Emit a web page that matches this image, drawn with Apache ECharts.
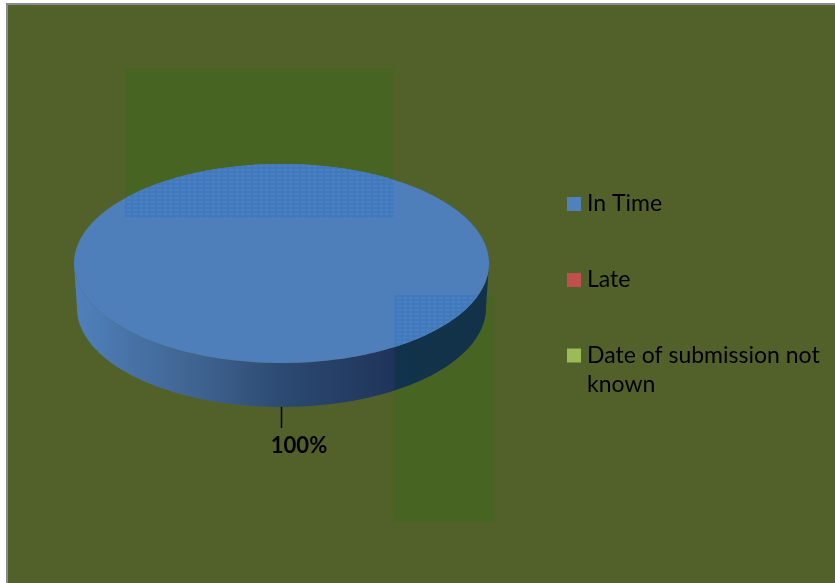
<!DOCTYPE html>
<html><head><meta charset="utf-8">
<style>html,body{margin:0;padding:0;background:#fff}#c{width:835px;height:583px}</style>
<script src="https://cdn.jsdelivr.net/npm/echarts@6/dist/echarts.min.js"></script>
</head><body><div id="c"></div>
<script>
const categories = ['In Time', 'Late', 'Date of submission not\nknown'];
const seriesValues = [100, 0, 0];
const seriesColors = ['#4f81bd', '#c0504d', '#9bbb59'];

const total = seriesValues.reduce((a, b) => a + b, 0);
const P = {cx: 281.5, cy: 263.5, rx: 207.5, ry: 99.5, bcx: 281.5, bcy: 308, brx: 204.5, bry: 99};

function band(w, h) {
  const cv = document.createElement('canvas');
  cv.width = w; cv.height = h;
  const g = cv.getContext('2d');
  g.fillStyle = '#4179bf'; g.fillRect(0, 0, w, h);
  g.fillStyle = '#4c7fbd';
  for (let y = 1; y < h; y += 4) for (let x = 1; x < w; x += 6) g.fillRect(x, y, 4, 2);
  return cv;
}
const pattern = {image: band(12, 8), repeat: 'repeat'};

function pt(a, o) {
  return [o.cx + o.rx * Math.sin(a), o.cy - o.ry * Math.cos(a)];
}
function renderSlice(idx) {
  return function (params, api) {
    const v = api.value(0);
    if (!v) return {type: 'group', children: []};
    const before = seriesValues.slice(0, idx).reduce((a, b) => a + b, 0);
    const a0 = before / total * 2 * Math.PI, a1 = (before + v) / total * 2 * Math.PI;
    const N = 240, top = {cx: P.cx, cy: P.cy, rx: P.rx, ry: P.ry};
    const bot = {cx: P.bcx, cy: P.bcy, rx: P.brx, ry: P.bry};
    const topPts = [];
    for (let i = 0; i <= N; i++) topPts.push(pt(a0 + (a1 - a0) * i / N, top));
    const lo = Math.max(a0, Math.PI / 2), hi = Math.min(a1, Math.PI * 1.5), upper = [], lower = [];
    for (let i = 0; i <= N; i++) {
      const a = lo + (hi - lo) * i / N;
      upper.push(pt(a, top)); lower.push(pt(a, bot));
    }
    const side = upper.concat(lower.reverse());
    const anchor = pt(Math.PI, bot);
    const pct = Math.round(v / total * 100) + '%';
    const clipIn = (x0, y0, x1, y1) => ({
      type: 'rect', shape: {x: x0, y: y0, width: x1 - x0, height: y1 - y0},
      style: {fill: {image: pattern.image, repeat: 'repeat'}}, z2: 3,
      clipPath: {type: 'polygon', shape: {points: topPts}}
    });
    return {type: 'group', children: [
      {type: 'polygon', z2: 1, shape: {points: side}, style: {
        fill: {type: 'linear', x: 0, y: 0, x2: 1, y2: 0, colorStops: [
          {offset: 0, color: '#5081bd'}, {offset: 0.12, color: '#4974a9'},
          {offset: 0.3, color: '#3f6390'}, {offset: 0.5, color: '#2c4a72'},
          {offset: 0.77, color: '#20345a'}, {offset: 0.775, color: '#11334b'},
          {offset: 1, color: '#133248'}]}
      }},
      {type: 'polygon', z2: 2, shape: {points: topPts}, style: {fill: '#4e7fbb'}},
      clipIn(125, 164, 394, 218),
      clipIn(394, 295, 480, 360),
      {type: 'line', z2: 4, shape: {x1: anchor[0], y1: anchor[1], x2: anchor[0], y2: anchor[1] + 21},
        style: {stroke: '#000', lineWidth: 1.5}},
      {type: 'text', z2: 4, x: anchor[0] + 17.5, y: anchor[1] + 38.5, style: {
        text: pct, fill: '#000', font: 'bold 22px Lato', align: 'center', verticalAlign: 'middle'}}
    ]};
  };
}

const chart = echarts.init(document.getElementById('c'), null, {renderer: 'canvas'});
const legendText = {color: '#000', fontFamily: 'Lato', fontSize: 23, lineHeight: 29};
chart.setOption({
  animation: false,
  backgroundColor: '#ffffff',
  graphic: [
    {type: 'rect', z: -5, shape: {x: 6, y: 3, width: 829, height: 580}, style: {fill: '#8c8c8c'}},
    {type: 'rect', z: -4, shape: {x: 8, y: 5, width: 827, height: 578}, style: {fill: '#526129'}},
    {type: 'rect', z: -3, shape: {x: 125, y: 68, width: 269, height: 152}, style: {fill: '#486423'}},
    {type: 'rect', z: -3, shape: {x: 394, y: 295, width: 100, height: 227}, style: {fill: '#486423'}}
  ],
  legend: [
    {data: categories.slice(0, 2).map(name => ({name, icon: 'path://M0 0L14 0L14 14L0 14Z M15 14L15 14'})),
      orient: 'vertical', left: 567, top: 189.5, padding: 0, itemWidth: 15, itemHeight: 14,
      itemGap: 47, selectedMode: false, textStyle: legendText},
    {data: [{name: categories[2], icon: 'path://M0 0L14 0L14 14L0 14Z M15 44L15 44'}], orient: 'vertical',
      left: 567, top: 341.5, padding: 0, itemWidth: 15, itemHeight: 44, selectedMode: false, textStyle: legendText}
  ],
  series: categories.map((name, i) => ({
    type: 'custom', name, coordinateSystem: 'none', silent: true,
    itemStyle: {color: seriesColors[i]},
    data: [[seriesValues[i]]],
    renderItem: renderSlice(i)
  }))
});
</script></body></html>
